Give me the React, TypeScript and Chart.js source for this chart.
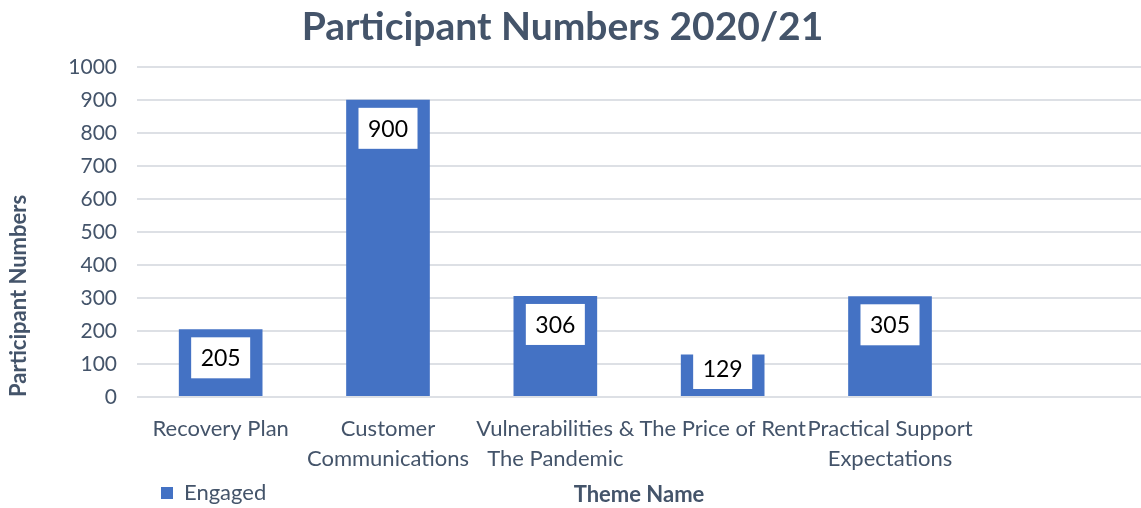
import React, { useEffect, useRef } from "react";
import { Chart, registerables } from "chart.js";

Chart.register(...registerables);

const TITLE = "Participant Numbers 2020/21";
const categories: (string | string[])[] = [
  "Recovery Plan",
  ["Customer", "Communications"],
  ["Vulnerabilities &", "The Pandemic"],
  "The Price of Rent",
  ["Practical Support", "Expectations"],
  "",
];
const engaged: (number | null)[] = [205, 900, 306, 129, 305, null];
const SERIES_NAME = "Engaged";
const Y_TITLE = "Participant Numbers";
const X_TITLE = "Theme Name";
const Y_MIN = 0;
const Y_MAX = 1000;
const Y_STEP = 100;

const FONT = "Lato, 'Open Sans', sans-serif";
const TEXT = "#44546A";
const BAR = "#4472C4";
const LEGEND_PAD = 4;

const labelPlugin = {
  id: "valueBoxes",
  afterDatasetsDraw(chart: any) {
    const ctx = chart.ctx;
    const meta = chart.getDatasetMeta(0);
    ctx.save();
    ctx.font = `23px ${FONT}`;
    ctx.textAlign = "center";
    ctx.textBaseline = "middle";
    meta.data.forEach((el: any, i: number) => {
      const v = engaged[i];
      if (v == null) return;
      const txt = String(v);
      const w = ctx.measureText(txt).width + 19;
      const h = 41;
      const cy = Math.min(el.y + 28.5, el.base - 7 - h / 2);
      ctx.fillStyle = "#ffffff";
      ctx.fillRect(el.x - w / 2, cy - h / 2, w, h);
      ctx.fillStyle = "#000000";
      ctx.fillText(txt, el.x, cy + 1);
    });
    ctx.restore();
  },
};

const layoutPlugin = {
  id: "legendShift",
  beforeDraw(chart: any) {
    const lg = chart.legend;
    if (lg) {
      const w = lg.right - lg.left;
      lg.left = 161 - LEGEND_PAD;
      lg.right = lg.left + w;
    }
    const tb = chart.titleBlock;
    if (tb && !tb._shifted) {
      tb.left -= 8;
      tb.right -= 8;
      tb._shifted = true;
    }
  },
  afterDraw(chart: any) {
    const lg = chart.legend;
    const ca = chart.chartArea;
    const ctx = chart.ctx;
    ctx.save();
    ctx.font = `bold 22px ${FONT}`;
    ctx.fillStyle = TEXT;
    ctx.textAlign = "center";
    ctx.textBaseline = "middle";
    const y = lg ? (lg.top + lg.bottom) / 2 : chart.height - 15;
    ctx.fillText(X_TITLE, (ca.left + ca.right) / 2, y - 1);
    ctx.restore();
  },
};

export default function App() {
  const ref = useRef<HTMLCanvasElement | null>(null);
  useEffect(() => {
    document.body.style.margin = "0";
    if (!ref.current) return;
    const chart = new Chart(ref.current, {
      type: "bar",
      data: {
        labels: categories,
        datasets: [
          {
            label: SERIES_NAME,
            data: engaged,
            backgroundColor: BAR,
            borderWidth: 0,
            categoryPercentage: 1,
            barPercentage: 0.5,
          },
        ],
      },
      options: {
        animation: false,
        responsive: false,
        devicePixelRatio: 1,
        layout: { padding: { top: 0, right: 0, bottom: -6, left: 0 } },
        plugins: {
          title: {
            display: true,
            text: TITLE,
            color: TEXT,
            font: { family: FONT, size: 39, weight: "bold" },
            padding: { top: 4, bottom: 16 },
          },
          legend: {
            display: true,
            position: "bottom",
            align: "start",
            labels: {
              boxWidth: 12,
              boxHeight: 12,
              color: TEXT,
              font: { family: FONT, size: 22 },
              padding: LEGEND_PAD,
            },
          },
          tooltip: { enabled: false },
        },
        scales: {
          x: {
            afterFit(scale: any) {
              scale.height = 81;
            },
            grid: { display: false },
            border: { display: false },
            ticks: {
              color: TEXT,
              font: { family: FONT, size: 22, lineHeight: 1.36 },
              padding: 9,
              maxRotation: 0,
              minRotation: 0,
              autoSkip: false,
            },
          },
          y: {
            min: Y_MIN,
            max: Y_MAX,
            afterFit(scale: any) {
              scale.width = 137;
            },
            grid: { color: "#DDE0E5", lineWidth: 2, drawTicks: false },
            border: { display: false },
            ticks: {
              stepSize: Y_STEP,
              color: TEXT,
              font: { family: FONT, size: 21 },
              padding: 20,
              callback: (v: any) => String(v),
            },
            title: {
              display: true,
              text: Y_TITLE,
              align: "start",
              color: TEXT,
              font: { family: FONT, size: 22, weight: "bold" },
              padding: { top: 6, bottom: 0 },
            },
          },
        },
      },
      plugins: [labelPlugin, layoutPlugin],
    } as any);
    return () => chart.destroy();
  }, []);
  return (
    <div style={{ width: 1141, height: 508 }}>
      <canvas ref={ref} width={1141} height={508} style={{ width: 1141, height: 508 }} />
    </div>
  );
}
